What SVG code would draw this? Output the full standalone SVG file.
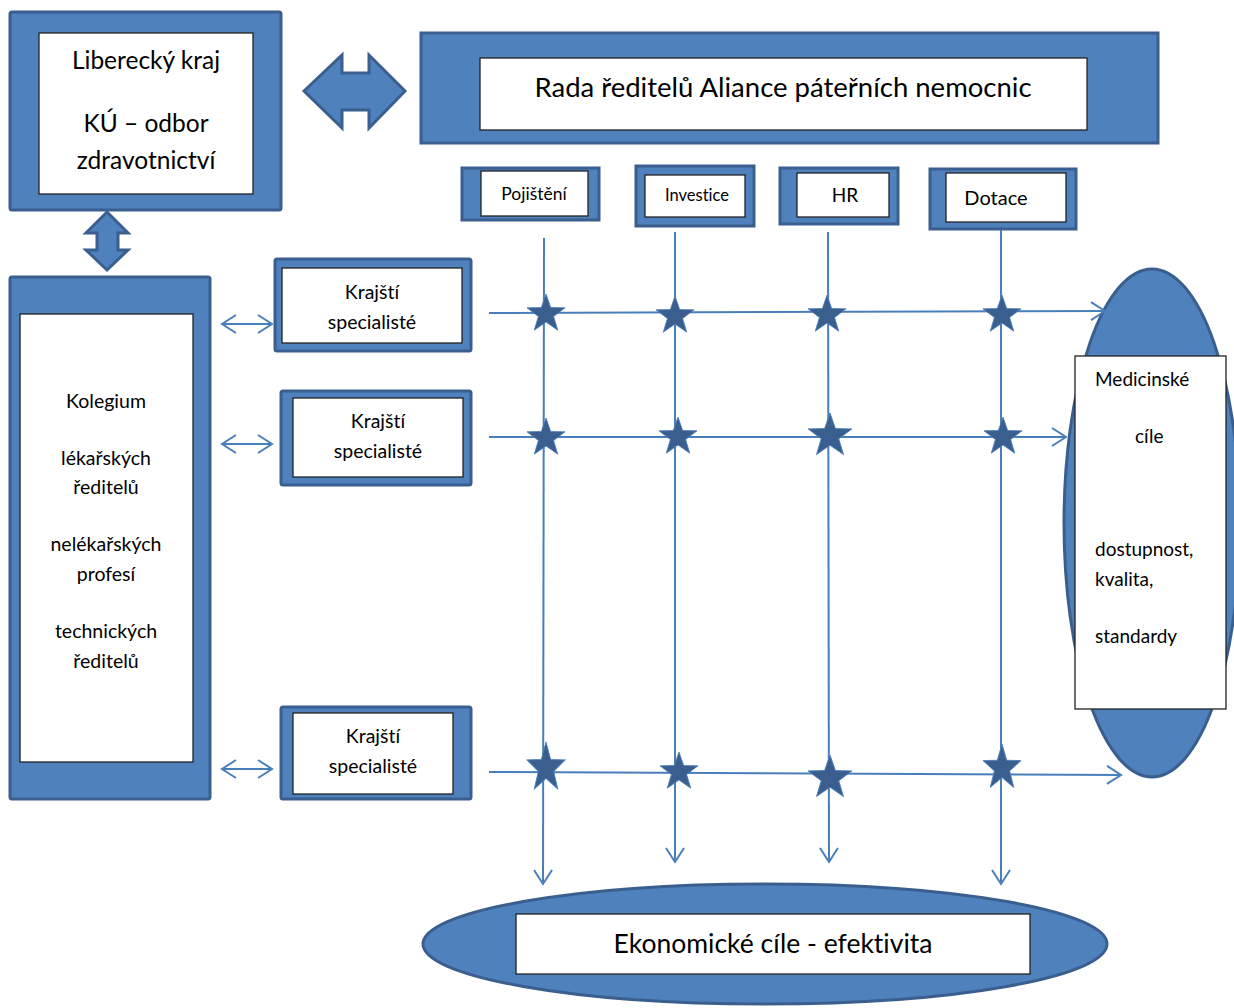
<svg xmlns="http://www.w3.org/2000/svg" width="1234" height="1008" viewBox="0 0 1234 1008">
<defs>
<style>
.blk{fill:#4f81bd;stroke:#3a5f8f;stroke-width:3}
.wht{fill:#fff;stroke:#222;stroke-width:1.3}
.t{font-family:Lato,"Open Sans","Noto Sans",sans-serif;fill:#000;text-anchor:middle;font-variant-ligatures:none}
.s{text-anchor:start}
.ln{stroke:#4a7ebb;stroke-width:2;fill:none}
.star{fill:#3a5f8f;stroke:#4a7ebb;stroke-width:0.8}
</style>
<marker id="oa" viewBox="0 0 20 20" refX="18" refY="10" markerWidth="20" markerHeight="20" markerUnits="userSpaceOnUse" orient="auto-start-reverse">
<polyline points="4,1 18,10 4,19" fill="none" stroke="#4a7ebb" stroke-width="2"/>
</marker>
<polygon id="st" points="0,-20 4.7,-6.47 19.02,-6.18 7.61,2.47 11.76,16.18 0,8 -11.76,16.18 -7.61,2.47 -19.02,-6.18 -4.7,-6.47"/>
</defs>
<rect width="1234" height="1008" fill="#fff"/>

<g id="liberecky">
<rect class="blk" x="10" y="12" width="271" height="198" rx="2"/>
<rect class="wht" x="39" y="33" width="214" height="161"/>
<text class="t" font-size="24.5" x="146" y="69">Liberecký kraj</text>
<text class="t" font-size="24.5" x="146" y="132">KÚ – odbor</text>
<text class="t" font-size="24.5" x="146" y="169">zdravotnictví</text>
</g>

<g id="arrow-h">
<polygon class="blk" points="304,91 342,55 342,73 369,73 369,55 405,91 369,128 369,110 342,110 342,128"/>
</g>
<g id="arrow-v">
<polygon class="blk" points="107,212 128,233 118,233 118,250 128,250 107,270 86,250 97,250 97,233 86,233"/>
</g>

<g id="rada">
<rect class="blk" x="421" y="33" width="737" height="110"/>
<rect class="wht" x="480" y="58" width="607" height="72"/>
<text class="t" font-size="27.5" x="783" y="97">Rada ředitelů Aliance páteřních nemocnic</text>
</g>

<g id="pojisteni">
<rect class="blk" x="462" y="168" width="137" height="52"/>
<rect class="wht" x="481" y="171" width="107" height="45"/>
<text class="t" font-size="17.5" x="534" y="200">Pojištění</text>
</g>
<g id="investice">
<rect class="blk" x="636" y="166" width="118" height="60"/>
<rect class="wht" x="645" y="175" width="100" height="42"/>
<text class="t" font-size="16.5" x="697" y="201">Investice</text>
</g>
<g id="hr">
<rect class="blk" x="780" y="168" width="118" height="56"/>
<rect class="wht" x="797" y="173" width="92" height="44"/>
<text class="t" font-size="19" x="845" y="202">HR</text>
</g>
<g id="dotace">
<rect class="blk" x="930" y="169" width="146" height="60"/>
<rect class="wht" x="946" y="173" width="120" height="49"/>
<text class="t" font-size="20" x="996" y="205">Dotace</text>
</g>

<g id="kolegium">
<rect class="blk" x="10" y="277" width="200" height="522" rx="2"/>
<rect class="wht" x="20" y="314" width="173" height="448"/>
<text class="t" font-size="19.5" x="106" y="408">Kolegium</text>
<text class="t" font-size="19.5" x="106" y="465">lékařských</text>
<text class="t" font-size="19.5" x="106" y="494">ředitelů</text>
<text class="t" font-size="19.5" x="106" y="551">nelékařských</text>
<text class="t" font-size="19.5" x="106" y="581">profesí</text>
<text class="t" font-size="19.5" x="106" y="638">technických</text>
<text class="t" font-size="19.5" x="106" y="668">ředitelů</text>
</g>

<g id="krajsti1">
<rect class="blk" x="275" y="259" width="196" height="92" rx="2"/>
<rect class="wht" x="282" y="268" width="180" height="75"/>
<text class="t" font-size="19.5" x="372" y="299">Krajští</text>
<text class="t" font-size="19.5" x="372" y="329">specialisté</text>
</g>
<g id="krajsti2">
<rect class="blk" x="281" y="391" width="190" height="94" rx="2"/>
<rect class="wht" x="293" y="398" width="170" height="79"/>
<text class="t" font-size="19.5" x="378" y="428">Krajští</text>
<text class="t" font-size="19.5" x="378" y="458">specialisté</text>
</g>
<g id="krajsti3">
<rect class="blk" x="281" y="707" width="190" height="92" rx="2"/>
<rect class="wht" x="293" y="713" width="160" height="81"/>
<text class="t" font-size="19.5" x="373" y="743">Krajští</text>
<text class="t" font-size="19.5" x="373" y="773">specialisté</text>
</g>

<g id="medicinske">
<ellipse class="blk" cx="1152" cy="523" rx="88" ry="254"/>
<rect class="wht" x="1075" y="356" width="151" height="353"/>
<text class="t s" font-size="19" x="1095" y="386">Medicinské</text>
<text class="t s" font-size="19" x="1135" y="443">cíle</text>
<text class="t s" font-size="19" x="1095" y="556">dostupnost,</text>
<text class="t s" font-size="19" x="1095" y="586">kvalita,</text>
<text class="t s" font-size="19" x="1095" y="643">standardy</text>
</g>

<g id="ekonomicke">
<ellipse class="blk" cx="765" cy="944" rx="342" ry="60"/>
<rect class="wht" x="516" y="914" width="514" height="60"/>
<text class="t" font-size="26.5" x="773" y="953">Ekonomické cíle - efektivita</text>
</g>

<g id="connectors">
<line class="ln" x1="222" y1="324" x2="272" y2="324" marker-start="url(#oa)" marker-end="url(#oa)"/>
<line class="ln" x1="222" y1="444" x2="272" y2="444" marker-start="url(#oa)" marker-end="url(#oa)"/>
<line class="ln" x1="222" y1="769" x2="272" y2="769" marker-start="url(#oa)" marker-end="url(#oa)"/>

<line class="ln" x1="544" y1="238" x2="543" y2="884" marker-end="url(#oa)"/>
<line class="ln" x1="675" y1="232" x2="675" y2="862" marker-end="url(#oa)"/>
<line class="ln" x1="828" y1="232" x2="829" y2="862" marker-end="url(#oa)"/>
<line class="ln" x1="1001" y1="230" x2="1001" y2="884" marker-end="url(#oa)"/>

<line class="ln" x1="489" y1="313" x2="1105" y2="311" marker-end="url(#oa)"/>
<line class="ln" x1="489" y1="437" x2="1066" y2="437" marker-end="url(#oa)"/>
<line class="ln" x1="489" y1="772" x2="1121" y2="775" marker-end="url(#oa)"/>

<use href="#st" class="star" transform="translate(546,314)"/>
<use href="#st" class="star" transform="translate(675,316)"/>
<use href="#st" class="star" transform="translate(827,315)"/>
<use href="#st" class="star" transform="translate(1002,315)"/>
<use href="#st" class="star" transform="translate(546,438)"/>
<use href="#st" class="star" transform="translate(678,437)"/>
<use href="#st" class="star" transform="translate(830,436) scale(1.15)"/>
<use href="#st" class="star" transform="translate(1003,437)"/>
<use href="#st" class="star" transform="translate(546,768) scale(1,1.3)"/>
<use href="#st" class="star" transform="translate(679,772)"/>
<use href="#st" class="star" transform="translate(830,778) scale(1.15)"/>
<use href="#st" class="star" transform="translate(1002,768) scale(1,1.2)"/>
</g>
</svg>
